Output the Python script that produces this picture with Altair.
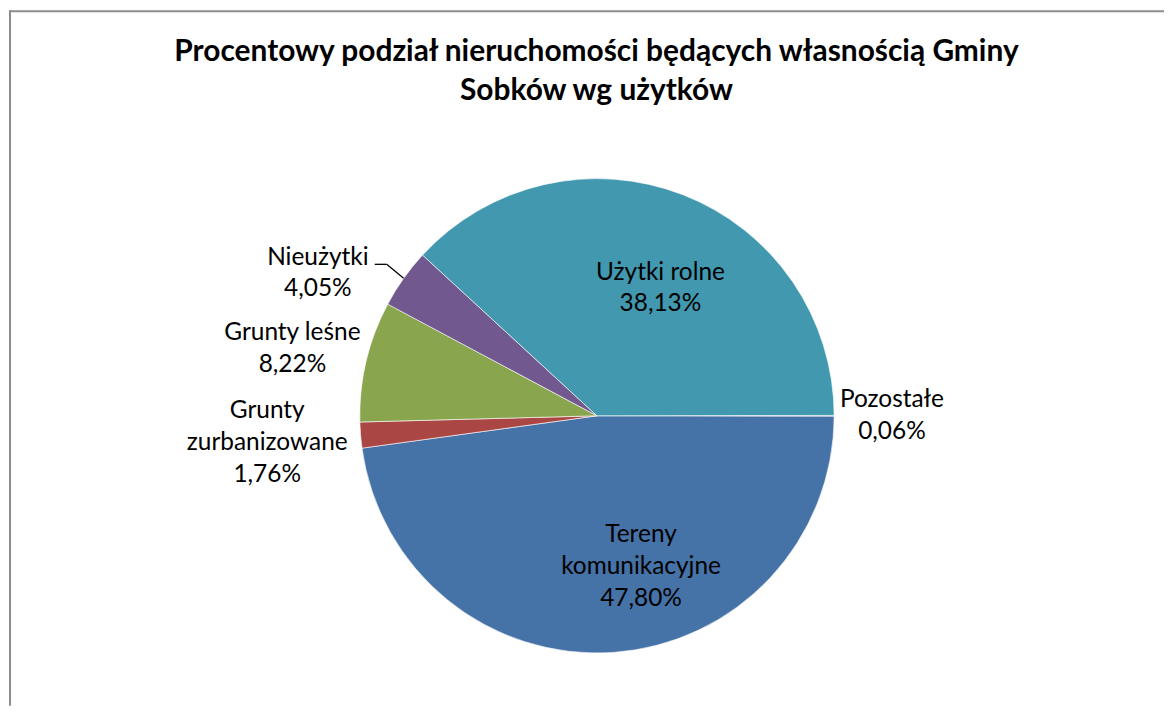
import math
import altair as alt
import pandas as pd

# ---- data ----
categories = ["Pozostałe", "Tereny komunikacyjne", "Grunty zurbanizowane",
              "Grunty leśne", "Nieużytki", "Użytki rolne"]
percents = [0.06, 47.80, 1.76, 8.22, 4.05, 38.13]
colors = ["#DB843D", "#4572A7", "#AA4643", "#89A54E", "#71588F", "#4198AF"]
title_text = "Procentowy podział nieruchomości będących własnością Gminy\nSobków wg użytków"

wrap = {"Tereny komunikacyjne": "Tereny\nkomunikacyjne",
        "Grunty zurbanizowane": "Grunty\nzurbanizowane"}

df = pd.DataFrame({
    "kategoria": categories,
    "procent": percents,
    "idx": list(range(len(categories))),
})
df["etykieta"] = [wrap.get(c, c) + "\n" + f"{p:.2f}".replace(".", ",") + "%"
                  for c, p in zip(df["kategoria"], df["procent"])]

total = sum(percents)
start = math.radians(89.9)
theta_scale = alt.Scale(domain=[0, total], range=[start, start + 2 * math.pi])
color_scale = alt.Scale(domain=categories, range=colors)

W, H = 1157, 699
CX, CY = 588, 408
R = 238
FONT = "Lato"
LH = 32

base = alt.Chart(df)

arcs = base.mark_arc(radius=R, stroke="white", strokeWidth=0.6).encode(
    theta=alt.Theta("procent:Q", stack=True, scale=theta_scale),
    color=alt.Color("kategoria:N", scale=color_scale, legend=None),
    order=alt.Order("idx:Q"),
    x=alt.value(CX),
    y=alt.value(CY),
)

label_base = base.transform_window(
    cum="sum(procent)", sort=[alt.SortField("idx")], frame=[None, 0]
).transform_calculate(mid="datum.cum - datum.procent / 2")


def label(cat, radius, lines, dx=0, dy=0):
    return label_base.transform_filter(
        alt.datum.kategoria == cat
    ).mark_text(
        radius=radius, dx=dx, dy=dy - (lines - 1) * LH / 2, font=FONT,
        fontSize=24.5, lineHeight=LH, lineBreak="\n", align="center",
        baseline="middle", color="black",
    ).encode(
        theta=alt.Theta("mid:Q", scale=theta_scale),
        text="etykieta:N",
        x=alt.value(CX),
        y=alt.value(CY),
    )


labels = [
    label("Pozostałe", 296, 2),
    label("Tereny komunikacyjne", 152, 3, dx=34),
    label("Grunty zurbanizowane", 332, 3),
    label("Grunty leśne", 314, 2, dy=5),
    label("Nieużytki", 238, 2, dx=-86, dy=-5),
    label("Użytki rolne", 137, 2, dx=14),
]

nieuz = base.transform_filter(alt.datum.kategoria == "Nieużytki")
leader1 = nieuz.mark_rule(color="black", strokeWidth=1.3).encode(
    x=alt.value(365), x2=alt.value(377), y=alt.value(256), y2=alt.value(256)
)
leader2 = nieuz.mark_rule(color="black", strokeWidth=1.3).encode(
    x=alt.value(377), x2=alt.value(394), y=alt.value(256), y2=alt.value(270)
)

first = base.transform_filter(alt.datum.idx == 0)
border_left = first.mark_rule(color="#8c8c8c", strokeWidth=2).encode(
    x=alt.value(-1), x2=alt.value(-1), y=alt.value(1), y2=alt.value(H)
)
border_top = first.mark_rule(color="#8c8c8c", strokeWidth=2).encode(
    x=alt.value(-2), x2=alt.value(W), y=alt.value(2), y2=alt.value(2)
)

title = first.mark_text(
    font=FONT, fontSize=30, fontWeight="bold", color="black",
    align="center", baseline="alphabetic", lineBreak="\n", lineHeight=39,
).encode(
    text=alt.value(title_text),
    x=alt.value(587.5),
    y=alt.value(52),
)

chart = alt.layer(
    border_left, border_top, arcs, leader1, leader2, title, *labels
).properties(
    width=W, height=H, padding=0, background="white",
).configure_view(stroke="transparent", strokeWidth=0)

chart.save("out.html", embed_options={"renderer": "svg", "actions": False})
